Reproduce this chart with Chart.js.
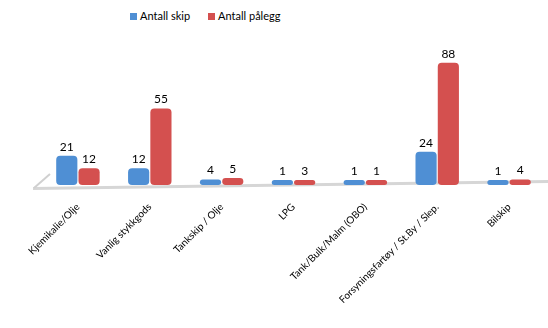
<!DOCTYPE html>
<html>
<head>
<meta charset="utf-8">
<script src="https://cdn.jsdelivr.net/npm/chart.js@4"></script>
<style>
  html, body { margin: 0; padding: 0; background: #fff; }
  #wrap { position: relative; width: 548px; height: 328px; overflow: hidden; }
  #legend { position: absolute; top: 9px; left: 130px; font: 11px Lato, sans-serif; color: #000; display: flex; gap: 18px; }
  #legend span.box { display: inline-block; width: 7px; height: 7px; margin-right: 3px; }
  canvas { position: absolute; left: 0; top: 0; }
</style>
</head>
<body>
<div id="wrap">
  <div id="legend"></div>
  <canvas id="chart" width="548" height="328"></canvas>
</div>
<script>
const categories = [
  "Kjemikalie/Olje",
  "Vanlig stykkgods",
  "Tankskip / Olje",
  "LPG",
  "Tank/Bulk/Malm (OBO)",
  "Forsyningsfartøy / St.By / Slep.",
  "Bilskip"
];
const seriesNames = ["Antall skip", "Antall pålegg"];
const antallSkip = [21, 12, 4, 1, 1, 24, 1];
const antallPalegg = [12, 55, 5, 3, 1, 88, 4];

const colors = [
  { edge: "#2f64a6", mid: "#74aee6", flat: "#4f8fd4" },
  { edge: "#a83232", mid: "#ea7070", flat: "#d4504f" }
];

const legendEl = document.getElementById("legend");
seriesNames.forEach((name, i) => {
  const item = document.createElement("div");
  item.innerHTML = `<span class="box" style="background:${colors[i].flat}"></span>${name}`;
  legendEl.appendChild(item);
});

function cylinder(i) {
  return (ctx) => {
    const el = ctx.element;
    if (!el || el.x === undefined || !el.width) return colors[i].flat;
    const g = ctx.chart.ctx.createLinearGradient(el.x - el.width / 2, 0, el.x + el.width / 2, 0);
    g.addColorStop(0, colors[i].edge);
    g.addColorStop(0.4, colors[i].mid);
    g.addColorStop(1, colors[i].edge);
    return g;
  };
}

const floorPlugin = {
  id: "floor",
  beforeDatasetsDraw(chart) {
    const { ctx, chartArea } = chart;
    const b = chartArea.bottom;
    ctx.save();
    ctx.fillStyle = "#d6d6d6";
    ctx.beginPath();
    ctx.moveTo(33, b + 2);
    ctx.lineTo(548, b - 5);
    ctx.lineTo(548, b - 2);
    ctx.lineTo(33, b + 5);
    ctx.closePath();
    ctx.fill();
    ctx.strokeStyle = "#d0d0d0";
    ctx.lineWidth = 2;
    ctx.beginPath();
    ctx.moveTo(34, b + 3);
    ctx.lineTo(50, b - 11);
    ctx.stroke();
    ctx.restore();
  }
};

const valuePlugin = {
  id: "values",
  afterDatasetsDraw(chart) {
    const ctx = chart.ctx;
    ctx.save();
    ctx.font = "12px Lato, sans-serif";
    ctx.fillStyle = "#000";
    ctx.textAlign = "center";
    ctx.textBaseline = "bottom";
    chart.data.datasets.forEach((ds, di) => {
      chart.getDatasetMeta(di).data.forEach((bar, i) => {
        ctx.fillText(String(ds.data[i]), bar.x, bar.y - 3);
      });
    });
    ctx.restore();
  }
};

new Chart(document.getElementById("chart"), {
  type: "bar",
  data: {
    labels: categories,
    datasets: [
      { label: seriesNames[0], data: antallSkip, backgroundColor: cylinder(0) },
      { label: seriesNames[1], data: antallPalegg, backgroundColor: cylinder(1) }
    ]
  },
  options: {
    responsive: false,
    animation: false,
    layout: { padding: { left: 42, right: 3, top: 46, bottom: 0 } },
    datasets: {
      bar: { categoryPercentage: 0.62, barPercentage: 0.95, borderRadius: 4, borderSkipped: false, minBarLength: 5 }
    },
    plugins: { legend: { display: false }, tooltip: { enabled: false } },
    scales: {
      y: { display: false, min: 0, max: 100 },
      x: {
        grid: { display: false },
        border: { display: false },
        ticks: {
          minRotation: 45,
          maxRotation: 45,
          padding: 8,
          color: "#000",
          font: { family: "Lato, sans-serif", size: 10 }
        },
        afterFit: (s) => { s.height = 143; }
      }
    }
  },
  plugins: [floorPlugin, valuePlugin]
});
</script>
</body>
</html>
